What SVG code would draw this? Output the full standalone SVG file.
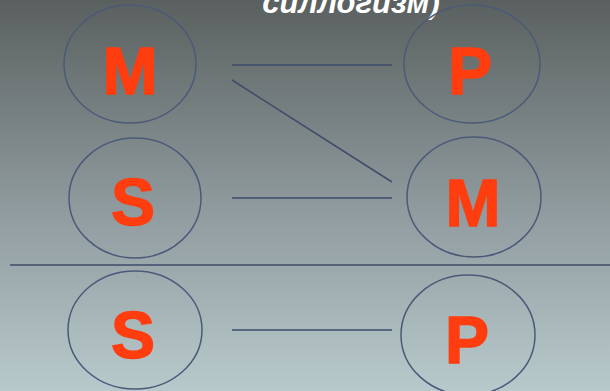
<svg xmlns="http://www.w3.org/2000/svg" width="610" height="391" viewBox="0 0 610 391">
<defs>
<linearGradient id="bg" x1="0" y1="0" x2="0" y2="1">
<stop offset="0" stop-color="#5a605f"/>
<stop offset="0.5" stop-color="#8c979a"/>
<stop offset="1" stop-color="#b8c9cc"/>
</linearGradient>
<style>
.c{fill:none;stroke:#4b5a78;stroke-width:1.5}
.t{font-family:"Liberation Sans",Arial,sans-serif;font-weight:bold;font-size:66px;fill:#ff3d0f;stroke:#ff3d0f;stroke-width:1.5;text-anchor:middle}
.l{stroke:#3e4c6a;stroke-width:1.5;fill:none}
</style>
</defs>
<rect width="610" height="391" fill="url(#bg)"/>
<text x="351" y="13" font-family="Liberation Sans,Arial,sans-serif" font-weight="bold" font-style="italic" font-size="31" fill="#ffffff" text-anchor="middle">силлогизм)</text>
<g id="connectors">
<line class="l" x1="232" y1="65" x2="392" y2="65"/>
<line class="l" x1="232" y1="80" x2="392" y2="182"/>
<line class="l" x1="232" y1="198" x2="392" y2="198"/>
<line class="l" x1="10" y1="265" x2="610" y2="265"/>
<line class="l" x1="232" y1="330" x2="392" y2="330"/>
</g>
<g id="m1"><ellipse class="c" cx="130" cy="64" rx="66" ry="59"/><text class="t" x="130" y="94">M</text></g>
<g id="p1"><ellipse class="c" cx="472" cy="64" rx="68" ry="59"/><text class="t" x="470" y="94">P</text></g>
<g id="s1"><ellipse class="c" cx="135" cy="198" rx="66" ry="60"/><text class="t" x="133" y="225">S</text></g>
<g id="m2"><ellipse class="c" cx="474" cy="197" rx="67" ry="60"/><text class="t" x="473" y="226">M</text></g>
<g id="s2"><ellipse class="c" cx="135" cy="330" rx="67" ry="59"/><text class="t" x="133" y="358">S</text></g>
<g id="p2"><ellipse class="c" cx="468" cy="335" rx="67" ry="60"/><text class="t" x="467" y="363">P</text></g>
</svg>
